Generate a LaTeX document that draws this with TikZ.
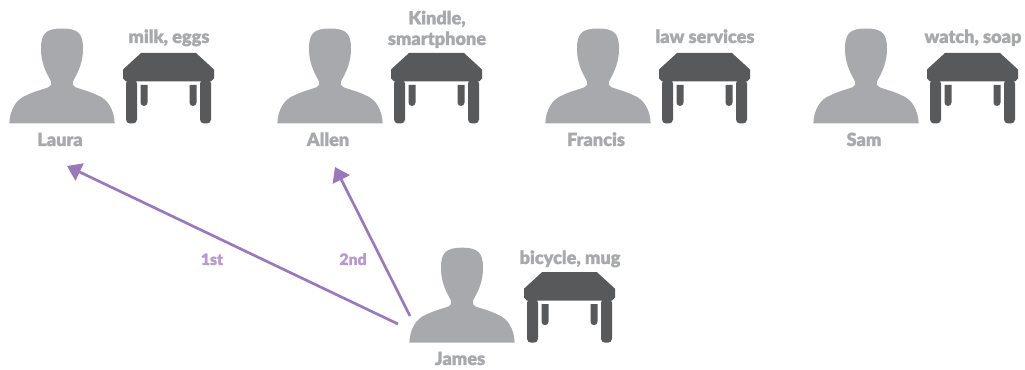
\documentclass[tikz,border=0pt]{standalone}
\usepackage{fontspec}
\setmainfont{Lato}[BoldFont={Lato Black}, BoldFeatures={FakeBold=1.3}]
\usetikzlibrary{arrows.meta}
\definecolor{personGray}{HTML}{A7A9AC}
\definecolor{stallGray}{HTML}{58595B}
\definecolor{linePurple}{HTML}{9A78BC}
\definecolor{ordPurple}{HTML}{B79AD3}
\tikzset{
  nametext/.style={text=personGray, font=\bfseries\fontsize{13.6}{15.5}\selectfont, align=center, anchor=base},
  ordtext/.style={text=ordPurple, font=\bfseries\fontsize{11.8}{13}\selectfont, anchor=base},
  searchpath/.style={linePurple, line width=2pt, -{Triangle[length=10.5pt,width=14pt]}},
  person/.pic={
    \fill [personGray] (-52.7,0) .. controls (-52,-14) and (-46,-24) .. (-36,-28)
      .. controls (-28,-32) and (-20,-34) .. (-14,-36)
      .. controls (-10,-38) and (-10,-41) .. (-12,-44)
      .. controls (-17,-53) and (-21,-62) .. (-21,-75)
      .. controls (-21,-90) and (-16,-95) .. (0,-95)
      .. controls (16,-95) and (21,-90) .. (21,-75)
      .. controls (21,-62) and (17,-53) .. (12,-44)
      .. controls (10,-41) and (10,-38) .. (14,-36)
      .. controls (20,-34) and (28,-32) .. (36,-28)
      .. controls (46,-24) and (52,-14) .. (52.7,0) -- cycle;
  },
  stall/.pic={
    \fill [stallGray] (-45.5,-54) -- (-27.5,-70.5) -- (27.5,-70.5) -- (45.5,-54) -- (45.5,-45)
      -- (42.5,-42) -- (-42.5,-42) -- (-45.5,-45) -- cycle;
    \fill [stallGray, rounded corners=3pt] (-42.5,-44) rectangle (-31.5,0);
    \fill [stallGray, rounded corners=3pt] (31.5,-44) rectangle (42.5,0);
    \fill [stallGray] (-28,-38.5) -- (-28,-21) arc (180:0:3.5) -- (-21,-38.5) -- cycle;
    \fill [stallGray] (21,-38.5) -- (21,-21) arc (180:0:3.5) -- (28,-38.5) -- cycle;
  }
}
\begin{document}
\begin{tikzpicture}[x=0.75pt, y=-0.75pt]

\useasboundingbox (0,0) rectangle (1025,370);

%People and stalls

\pic at (62,123.5) {person};
\pic at (168.5,123.5) {stall};
\pic at (330,123.5) {person};
\pic at (436.5,123.5) {stall};
\pic at (598,123.5) {person};
\pic at (704.5,123.5) {stall};
\pic at (866,123.5) {person};
\pic at (972.5,123.5) {stall};
\pic at (462,342.7) {person};
\pic at (569.5,342.7) {stall};

%Names

\node [nametext] (laura) at (60,146) {Laura};
\node [nametext] (allen) at (328,146) {Allen};
\node [nametext] (francis) at (596,146) {Francis};
\node [nametext] (sam) at (864,146) {Sam};
\node [nametext] (james) at (460,365) {James};

%Goods

\node [nametext] (lauraGoods) at (169,43) {milk, eggs};
\node [nametext] (allenGoods) at (437,45) {Kindle,\\smartphone};
\node [nametext] (francisGoods) at (705,43) {law services};
\node [nametext] (samGoods) at (973,43) {watch, soap};
\node [nametext] (jamesGoods) at (570,264) {bicycle, mug};

%Search paths

\coordinate (startOne) at (398,324);
\coordinate (startTwo) at (410,316);
\coordinate (endOne) at (67,166);
\coordinate (endTwo) at (335,167);

\draw [searchpath] (startOne) -- (endOne);
\draw [searchpath] (startTwo) -- (endTwo);

\node [ordtext] (first) at (212,265) {1st};
\node [ordtext] (second) at (353,265) {2nd};

\end{tikzpicture}
\end{document}
